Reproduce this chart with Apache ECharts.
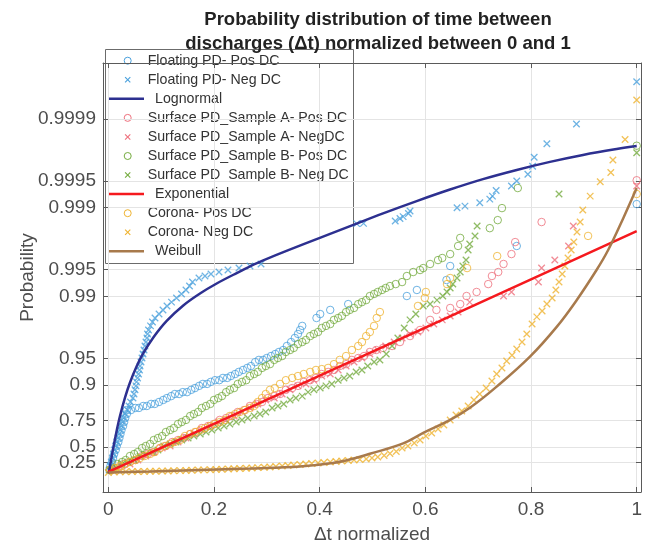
<!DOCTYPE html>
<html><head><meta charset="utf-8">
<script src="https://cdn.jsdelivr.net/npm/echarts@6/dist/echarts.min.js"></script>
<style>html,body{margin:0;padding:0;background:#fff}#c{width:651px;height:545px}</style>
</head><body><div id="c"></div>
<script>
// ---------- tick data ----------
const xTicks = [0, 0.2, 0.4, 0.6, 0.8, 1];
const xTickLabels = ['0', '0.2', '0.4', '0.6', '0.8', '1'];
const probTicks = [0.25, 0.5, 0.75, 0.9, 0.95, 0.99, 0.995, 0.999, 0.9995, 0.9999];
const probTickLabels = ['0.25', '0.5', '0.75', '0.9', '0.95', '0.99', '0.995', '0.999', '0.9995', '0.9999'];

// ---------- series data: [Δt normalized, probability] ----------
const floatingPos = [[0.002,0.094],[0.004,0.183],[0.007,0.264],[0.009,0.336],[0.011,0.402],[0.014,0.461],[0.016,0.514],[0.019,0.562],[0.021,0.605],[0.023,0.644],[0.025,0.679],[0.028,0.711],[0.030,0.739],[0.032,0.765],[0.035,0.788],
[0.035,0.809],[0.043,0.809],[0.051,0.819],[0.058,0.819],[0.066,0.828],[0.073,0.828],[0.081,0.837],[0.088,0.837],[0.096,0.845],[0.104,0.853],[0.111,0.860],[0.119,0.867],[0.126,0.874],[0.134,0.874],[0.141,0.880],[0.149,0.880],[0.157,0.887],[0.164,0.892],[0.172,0.898],[0.179,0.903],[0.187,0.903],[0.194,0.908],[0.202,0.912],[0.210,0.912],[0.217,0.917],[0.225,0.917],[0.232,0.921],[0.240,0.925],[0.247,0.929],[0.255,0.9325],[0.263,0.936],[0.270,0.939],[0.278,0.945],[0.285,0.948],[0.293,0.948],[0.300,0.9505],[0.308,0.953],[0.316,0.9554],[0.323,0.9577],[0.331,0.9598],[0.338,0.9638],[0.346,0.9673],[0.353,0.9706],[0.359,0.9735],[0.363,0.9761],[0.367,0.9785],
[0.394,0.9825],[0.401,0.9842],[0.420,0.9858],[0.454,0.9878],[0.565,0.9901],[0.584,0.99154],[0.640,0.99347],[0.647,0.99546],[0.773,0.99730],[1.000,0.99909]];

const floatingNeg = [[0.0015,0.094],[0.0036,0.183],[0.0057,0.264],[0.0078,0.336],[0.0098,0.402],[0.0119,0.461],[0.0140,0.514],[0.0161,0.562],[0.0184,0.605],[0.0204,0.644],[0.0225,0.679],[0.0248,0.711],[0.0271,0.739],[0.0293,0.765],[0.0316,0.788],[0.0363,0.809],[0.0392,0.828],[0.0420,0.845],[0.0467,0.860],[0.0486,0.874],[0.0505,0.887],[0.0524,0.898],[0.0534,0.908],[0.0553,0.917],[0.0572,0.925],[0.0590,0.9325],[0.0600,0.939],[0.0619,0.945],[0.0638,0.9505],[0.0657,0.9554],[0.0676,0.9598],[0.0694,0.9638],[0.0713,0.9673],[0.0732,0.9706],[0.0742,0.9735],[0.0761,0.9761],[0.0799,0.9785],[0.0836,0.9806],[0.0884,0.9825],[0.0960,0.9842],[0.1035,0.9858],[0.1111,0.9872],[0.1196,0.9884],[0.1291,0.9896],[0.1385,0.99062],[0.1470,0.99154],[0.1537,0.99236],[0.1593,0.99311],[0.1716,0.99380],[0.1830,0.99411],[0.1943,0.99441],[0.2095,0.99469],[0.2265,0.99496],[0.2473,0.99521],[0.2681,0.99546],[0.2890,0.99569],
[0.470,0.99849],[0.483,0.99850],[0.543,0.99859],[0.552,0.99868],[0.558,0.99874],[0.568,0.99884],[0.571,0.99891],[0.660,0.99900],[0.675,0.99904],[0.703,0.99912],[0.722,0.99920],[0.727,0.99926],[0.734,0.99936],[0.763,0.99943],[0.773,0.99950],[0.794,0.99958],[0.803,0.99966],[0.806,0.99973],[0.830,0.99981],[0.886,0.999886],[1.000,0.999962]];

const lognormalFit = [[0.0004,0.01],[0.0013,0.0526],[0.0095,0.4934],[0.0159,0.6737],[0.0221,0.7769],[0.0316,0.8619],[0.0411,0.9065],[0.0537,0.9386],[0.0662,0.95628],[0.0852,0.97099],[0.1105,0.98113],[0.1419,0.98735],[0.1735,0.99072],[0.2051,0.99285],[0.2430,0.994538],[0.291,0.996034],[0.4637,0.998436],[0.520,0.998841],[0.5836,0.999158],[0.6467,0.999376],[0.7091,0.999524],[0.7729,0.999625],[0.8359,0.999696],[0.8984,0.999746],[0.9621,0.999782],[1.0,0.999798]];

const surfAPos = [[0.007,0.094],[0.018,0.140],[0.030,0.224],[0.041,0.264],[0.052,0.301],[0.064,0.370],[0.075,0.402],[0.086,0.432],[0.098,0.488],[0.109,0.514],[0.121,0.562],[0.132,0.584],[0.143,0.605],[0.155,0.644],[0.166,0.662],[0.177,0.695],[0.189,0.711],[0.200,0.726],[0.211,0.753],[0.223,0.765],[0.234,0.777],[0.245,0.799],[0.257,0.809],[0.268,0.828],[0.280,0.837],[0.291,0.845],[0.302,0.860],[0.314,0.867],[0.325,0.874],[0.336,0.887],[0.348,0.892],[0.359,0.898],[0.370,0.908],[0.382,0.912],[0.393,0.917],[0.404,0.925],[0.416,0.929],[0.427,0.9325],[0.438,0.939],[0.450,0.942],[0.461,0.948],[0.473,0.9505],[0.484,0.953],[0.495,0.9577],[0.507,0.9598],[0.520,0.9619],[0.537,0.9638],[0.552,0.9673],[0.571,0.9720],[0.590,0.9761],[0.609,0.9816],[0.621,0.9858],[0.647,0.9865],[0.666,0.9878],[0.678,0.9901],[0.697,0.99109],[0.719,0.99274],[0.726,0.99411],[0.738,0.99469],[0.748,0.99569],[0.763,0.99667],[0.770,0.99756],[0.820,0.99855],[1.000,0.99951]];

const surfANeg = [[0.011,0.094],[0.026,0.183],[0.041,0.224],[0.056,0.301],[0.071,0.370],[0.086,0.432],[0.102,0.488],[0.117,0.514],[0.132,0.562],[0.147,0.605],[0.162,0.644],[0.177,0.679],[0.193,0.711],[0.208,0.739],[0.223,0.753],[0.238,0.777],[0.253,0.799],[0.268,0.819],[0.283,0.837],[0.298,0.853],[0.314,0.860],[0.329,0.874],[0.344,0.887],[0.359,0.898],[0.374,0.903],[0.389,0.912],[0.404,0.921],[0.420,0.925],[0.435,0.9325],[0.450,0.939],[0.465,0.945],[0.480,0.9505],[0.495,0.9554],[0.510,0.9598],[0.525,0.9638],[0.541,0.9673],[0.556,0.9706],[0.571,0.9735],[0.586,0.9748],[0.601,0.9773],[0.616,0.9795],[0.632,0.9816],[0.647,0.9834],[0.662,0.9850],[0.684,0.9884],[0.748,0.9901],[0.763,0.99109],[0.814,0.99311],[0.820,0.99521],[0.845,0.99611],[0.871,0.99730],[0.880,0.99839],[1.000,0.99943]];

const surfBPos = [[0.003,0.094],[0.011,0.140],[0.018,0.224],[0.026,0.264],[0.033,0.301],[0.041,0.370],[0.049,0.402],[0.056,0.432],[0.064,0.488],[0.071,0.514],[0.079,0.539],[0.086,0.584],[0.094,0.605],[0.102,0.625],[0.109,0.662],[0.117,0.679],[0.124,0.695],[0.132,0.726],[0.139,0.739],[0.147,0.753],[0.155,0.777],[0.162,0.788],[0.170,0.799],[0.177,0.819],[0.185,0.828],[0.193,0.837],[0.200,0.853],[0.208,0.860],[0.215,0.867],[0.223,0.880],[0.230,0.887],[0.238,0.892],[0.245,0.903],[0.253,0.908],[0.261,0.912],[0.268,0.921],[0.276,0.925],[0.283,0.929],[0.291,0.936],[0.298,0.939],[0.306,0.942],[0.314,0.948],[0.321,0.9505],[0.329,0.953],[0.336,0.9577],[0.344,0.9598],[0.351,0.9619],[0.359,0.9656],[0.367,0.9673],[0.374,0.9690],[0.382,0.9720],[0.389,0.9735],[0.397,0.9748],[0.404,0.9773],[0.412,0.9785],[0.420,0.9795],[0.427,0.9816],[0.435,0.9825],[0.442,0.9834],[0.450,0.9850],[0.457,0.9858],[0.465,0.9865],[0.473,0.9878],[0.480,0.9884],[0.488,0.9890],[0.495,0.9901],[0.503,0.99062],[0.510,0.99109],[0.518,0.99154],[0.525,0.99196],[0.533,0.99236],[0.544,0.99274],[0.556,0.99311],[0.565,0.99411],[0.577,0.99469],[0.590,0.99496],[0.596,0.99521],[0.609,0.99569],[0.624,0.99611],[0.632,0.99631],[0.647,0.99667],[0.662,0.99730],[0.666,0.99781],[0.722,0.99830],[0.737,0.99862],[0.745,0.99899],[0.775,0.99940],[1.000,0.99980]];

const surfBNeg = [[0.003,0.094],[0.015,0.140],[0.026,0.224],[0.037,0.264],[0.049,0.301],[0.060,0.370],[0.071,0.402],[0.083,0.432],[0.094,0.461],[0.105,0.514],[0.117,0.539],[0.128,0.562],[0.139,0.584],[0.151,0.605],[0.162,0.625],[0.174,0.644],[0.185,0.662],[0.196,0.679],[0.208,0.695],[0.219,0.711],[0.230,0.726],[0.242,0.739],[0.253,0.753],[0.264,0.765],[0.276,0.777],[0.287,0.788],[0.298,0.799],[0.310,0.819],[0.321,0.828],[0.332,0.837],[0.344,0.853],[0.355,0.860],[0.367,0.867],[0.378,0.880],[0.389,0.887],[0.401,0.892],[0.412,0.898],[0.423,0.903],[0.435,0.912],[0.446,0.917],[0.457,0.921],[0.469,0.929],[0.480,0.9325],[0.491,0.939],[0.503,0.945],[0.514,0.948],[0.526,0.9554],[0.537,0.9638],[0.548,0.9706],[0.560,0.9773],[0.571,0.9816],[0.582,0.9842],[0.596,0.9872],[0.609,0.9878],[0.622,0.9890],[0.633,0.9901],[0.641,0.99109],[0.647,0.99196],[0.652,0.99274],[0.660,0.99380],[0.666,0.99469],[0.671,0.99546],[0.677,0.99611],[0.681,0.99700],[0.684,0.99743],[0.694,0.99792],[0.698,0.99839],[0.853,0.99930],[1.000,0.99976]];

const exponentialFit = [[0,0.046],[0.2,0.727],[0.4,0.9217],[0.6,0.97751],[0.8,0.993573],[1,0.998161]];

const coronaPos = [[0.003,0.094],[0.013,0.140],[0.022,0.183],[0.032,0.224],[0.041,0.264],[0.051,0.301],[0.060,0.336],[0.069,0.370],[0.079,0.402],[0.088,0.432],[0.098,0.488],[0.107,0.514],[0.117,0.539],[0.126,0.562],[0.136,0.584],[0.145,0.625],[0.155,0.644],[0.164,0.662],[0.174,0.679],[0.183,0.695],[0.193,0.711],[0.202,0.726],[0.211,0.739],[0.221,0.753],[0.230,0.777],[0.240,0.788],[0.249,0.799],[0.259,0.809],[0.268,0.819],[0.276,0.828],[0.283,0.845],[0.291,0.860],[0.298,0.874],[0.306,0.887],[0.315,0.892],[0.325,0.903],[0.336,0.912],[0.348,0.917],[0.359,0.921],[0.370,0.925],[0.382,0.929],[0.393,0.9325],[0.404,0.934],[0.416,0.936],[0.427,0.942],[0.438,0.948],[0.450,0.953],[0.461,0.9598],[0.473,0.9638],[0.480,0.9673],[0.488,0.9720],[0.495,0.9748],[0.503,0.9785],[0.508,0.9825],[0.514,0.9850],[0.586,0.9872],[0.599,0.9896],[0.601,0.99109],[0.641,0.99274],[0.647,0.99380],[0.679,0.99521],[0.736,0.99649],[0.908,0.99792],[1.000,0.99930]];

const coronaNeg = [[0.000,0.035],[0.011,0.046],[0.022,0.048],[0.033,0.050],[0.045,0.056],[0.056,0.058],[0.068,0.060],[0.079,0.063],[0.090,0.065],[0.102,0.070],[0.113,0.072],[0.124,0.075],[0.136,0.080],[0.147,0.082],[0.158,0.087],[0.170,0.094],[0.181,0.096],[0.193,0.099],[0.204,0.105],[0.215,0.110],[0.227,0.117],[0.238,0.122],[0.249,0.128],[0.261,0.135],[0.272,0.140],[0.283,0.149],[0.295,0.155],[0.306,0.162],[0.317,0.173],[0.329,0.183],[0.340,0.194],[0.351,0.204],[0.363,0.214],[0.374,0.224],[0.385,0.234],[0.397,0.244],[0.408,0.254],[0.420,0.264],[0.431,0.274],[0.442,0.283],[0.454,0.292],[0.465,0.301],[0.476,0.310],[0.488,0.319],[0.499,0.336],[0.510,0.353],[0.522,0.378],[0.533,0.410],[0.545,0.439],[0.556,0.488],[0.567,0.514],[0.579,0.551],[0.590,0.584],[0.601,0.625],[0.612,0.653],[0.624,0.687],[0.635,0.718],[0.647,0.753],[0.658,0.783],[0.669,0.804],[0.681,0.828],[0.692,0.853],[0.703,0.874],[0.715,0.892],[0.726,0.910],[0.735,0.925],[0.745,0.936],[0.754,0.9465],[0.764,0.954],[0.773,0.9609],[0.783,0.9673],[0.792,0.9735],[0.802,0.9795],[0.811,0.9830],[0.821,0.9854],[0.830,0.9878],[0.840,0.9896],[0.847,0.99154],[0.853,0.99311],[0.859,0.99441],[0.864,0.99546],[0.870,0.99631],[0.876,0.99700],[0.881,0.99756],[0.887,0.99812],[0.893,0.99855],[0.898,0.99894],[0.912,0.99926],[0.931,0.99949],[0.951,0.99960],[0.955,0.99971],[0.978,0.99983],[1.000,0.999939]];

const weibullFit = [[0.0004,0.033],[0.079,0.058],[0.1735,0.094],[0.268,0.129],[0.363,0.173],[0.425,0.244],[0.457,0.309],[0.495,0.405],[0.558,0.546],[0.596,0.654],[0.647,0.753],[0.685,0.821],[0.735,0.896],[0.798,0.9522],[0.849,0.9781],[0.886,0.9889],[0.924,0.99496],[0.946,0.99700],[0.975,0.998706],[1.0,0.99940]];

const seriesNames = ['Floating PD- Pos DC','Floating PD- Neg DC','Lognormal','Surface PD_Sample A- Pos DC','Surface PD_Sample A- NegDC','Surface PD_Sample B- Pos DC','Surface PD_Sample B- Neg DC','Exponential','Corona- Pos DC','Corona- Neg DC','Weibull'];

// ---------- styling / layout ----------
const FONT = '"Liberation Sans", Arial, Helvetica, sans-serif';
const C = {blue:'#4aa0dc', navy:'#2d3090', pink:'#ee6f7c', green:'#74ab3e', red:'#f5191e', yellow:'#efb330', brown:'#a87a4c'};
const AX = '#5a5a5a', GRID = '#e4e4e4', LBL = '#4d4d4d';
const X_MIN = -0.01003, X_MAX = 1.00814, Y_MIN = -0.4725, Y_MAX = 10.665;

const toQ = p => -Math.log(1 - p);           // exponential probability-paper scale
const conv = arr => arr.map(d => [d[0], toQ(d[1])]);
const probTickQ = probTicks.map(toQ);
// the two lowest labels sit close together: draw the lowest one on a twin axis so neither gets hidden
const probLabelQMain = probTickQ.slice(1);
const probLabelQLow = probTickQ.slice(0, 1);
function probLabel(v) { for (let i = 0; i < probTickQ.length; i++) if (Math.abs(probTickQ[i] - v) < 1e-6) return probTickLabels[i]; return ''; }
function xLabel(v) { for (let i = 0; i < xTicks.length; i++) if (Math.abs(xTicks[i] - v) < 1e-9) return xTickLabels[i]; return ''; }

const XPATH = 'path://M0,0L10,10M10,0L0,10';
function circles(name, data, col) {
  return {name, type:'scatter', data: conv(data), symbol:'circle', symbolSize:7.5, silent:true,
    itemStyle:{color:'rgba(0,0,0,0)', borderColor:col, borderWidth:1}};
}
function crosses(name, data, col) {
  return {name, type:'scatter', data: conv(data), symbol:XPATH, symbolSize:6.5, silent:true,
    itemStyle:{color:'rgba(0,0,0,0)', borderColor:col, borderWidth:1.3}};
}
function fitLine(name, data, col, smooth) {
  return {name, type:'line', data: conv(data), showSymbol:false, smooth: smooth, silent:true,
    lineStyle:{color:col, width:2.5}};
}

const tickStyle = {show:true, inside:true, length:5, lineStyle:{color:AX, width:1}};
const axisLine = {show:true, onZero:false, lineStyle:{color:AX, width:1}};
const yLabelStyle = {formatter:probLabel, color:LBL, fontSize:19, fontFamily:FONT, margin:7, hideOverlap:false, showMinLabel:true, showMaxLabel:true, padding:[3,0,0,0]};

// legend drawn as graphic elements
const legendItems = [
  {kind:'circle', col:C.blue}, {kind:'x', col:C.blue}, {kind:'line', col:C.navy},
  {kind:'circle', col:C.pink}, {kind:'x', col:C.pink},
  {kind:'circle', col:C.green}, {kind:'x', col:C.green}, {kind:'line', col:C.red},
  {kind:'circle', col:C.yellow}, {kind:'x', col:C.yellow}, {kind:'line', col:C.brown}
];
const LG = {x:105, y:49, w:248, h:214, row0:60.7, dy:19.06, iconX:127.7, l1:109, l2:144, t1:147.7, t2:155};
const legendChildren = [{type:'rect', shape:{x:LG.x+0.5, y:LG.y+0.5, width:LG.w, height:LG.h}, style:{fill:'#fff', stroke:'#6b6b6b', lineWidth:1}}];
legendItems.forEach((it, i) => {
  const cy = LG.row0 + i * LG.dy;
  if (it.kind === 'circle') legendChildren.push({type:'circle', shape:{cx:LG.iconX, cy, r:3.5}, style:{fill:'none', stroke:it.col, lineWidth:1}});
  else if (it.kind === 'x') {
    legendChildren.push({type:'line', shape:{x1:LG.iconX-2.6, y1:cy-2.6, x2:LG.iconX+2.6, y2:cy+2.6}, style:{stroke:it.col, lineWidth:1.1}});
    legendChildren.push({type:'line', shape:{x1:LG.iconX-2.6, y1:cy+2.6, x2:LG.iconX+2.6, y2:cy-2.6}, style:{stroke:it.col, lineWidth:1.1}});
  } else legendChildren.push({type:'line', shape:{x1:LG.l1, y1:cy, x2:LG.l2, y2:cy}, style:{stroke:it.col, lineWidth:2.5}});
  legendChildren.push({type:'text', x: it.kind === 'line' ? LG.t2 : LG.t1, y: cy,
    style:{text: seriesNames[i], fill:'#333', font:'14.2px ' + FONT, textVerticalAlign:'middle', verticalAlign:'middle'}});
});

const chart = echarts.init(document.getElementById('c'), null, {renderer:'canvas'});
chart.setOption({
  animation:false,
  backgroundColor:'#fff',
  title:{text:'Probability distribution of time between\ndischarges (\u0394t) normalized between 0 and 1', left:373, top:3, textAlign:'center',
    textStyle:{fontFamily:FONT, fontSize:18.5, fontWeight:'bold', color:'#222', lineHeight:24}},
  grid:{left:103, top:63, width:538, height:429, containLabel:false, outerBoundsMode:'none'},
  xAxis:[
    {type:'value', position:'bottom', min:X_MIN, max:X_MAX, axisLine, axisTick:Object.assign({customValues:xTicks}, tickStyle),
     axisLabel:{customValues:xTicks, formatter:xLabel, color:LBL, fontSize:19, fontFamily:FONT, margin:8, hideOverlap:false, showMinLabel:true, showMaxLabel:true},
     splitLine:{show:true, lineStyle:{color:GRID, width:1}},
     name:'\u0394t normalized', nameLocation:'middle', nameGap:33, nameMoveOverlap:false, nameTextStyle:{color:LBL, fontSize:19, fontFamily:FONT}},
    {type:'value', position:'top', min:X_MIN, max:X_MAX, axisLine, axisTick:Object.assign({customValues:xTicks}, tickStyle),
     axisLabel:{show:false}, splitLine:{show:false}}
  ],
  yAxis:[
    {type:'value', position:'left', min:Y_MIN, max:Y_MAX, axisLine, axisTick:Object.assign({customValues:probTickQ}, tickStyle),
     axisLabel:Object.assign({customValues:probLabelQMain}, yLabelStyle),
     splitLine:{show:true, lineStyle:{color:GRID, width:1}},
     name:'Probability', nameLocation:'middle', nameGap:66, nameRotate:90, nameMoveOverlap:false, nameTextStyle:{color:LBL, fontSize:19, fontFamily:FONT}},
    {type:'value', position:'right', min:Y_MIN, max:Y_MAX, axisLine, axisTick:Object.assign({customValues:probTickQ}, tickStyle),
     axisLabel:{show:false}, splitLine:{show:false}},
    {type:'value', position:'left', offset:0, min:Y_MIN, max:Y_MAX, axisLine:{show:false}, axisTick:{show:false},
     axisLabel:Object.assign({customValues:probLabelQLow}, yLabelStyle), splitLine:{show:false}}
  ],
  series:[
    circles(seriesNames[0], floatingPos, C.blue),
    crosses(seriesNames[1], floatingNeg, C.blue),
    fitLine(seriesNames[2], lognormalFit, C.navy, 0.4),
    circles(seriesNames[3], surfAPos, C.pink),
    crosses(seriesNames[4], surfANeg, C.pink),
    circles(seriesNames[5], surfBPos, C.green),
    crosses(seriesNames[6], surfBNeg, C.green),
    fitLine(seriesNames[7], exponentialFit, C.red, false),
    circles(seriesNames[8], coronaPos, C.yellow),
    crosses(seriesNames[9], coronaNeg, C.yellow),
    fitLine(seriesNames[10], weibullFit, C.brown, 0.4)
  ],
  graphic:[{type:'group', z:100, silent:true, children:legendChildren}]
});
</script></body></html>
